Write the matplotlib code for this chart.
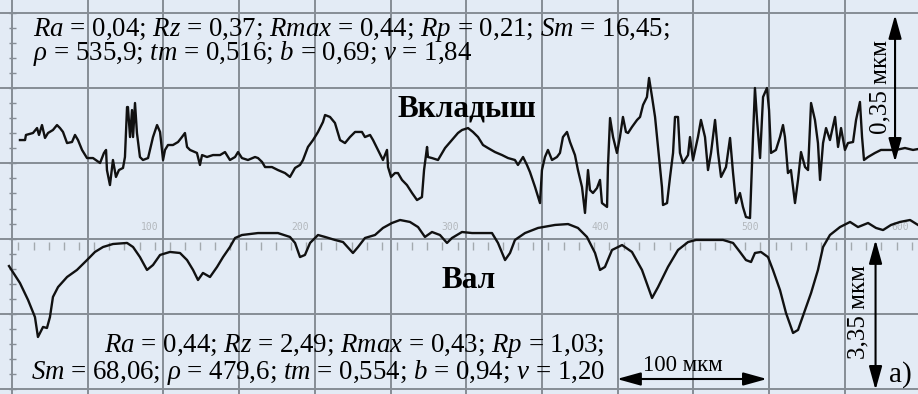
import matplotlib.pyplot as plt
import numpy as np

# profile coordinates (x in scale units, y in the same units from the bottom)
top_x = [13.3, 16.7, 17.3, 22, 24.7, 26, 28, 30, 32, 35.3, 38, 40, 42, 44.7, 48, 50, 52, 54.7, 58, 62,
         66.7, 69.3, 70.7, 71.3, 73.3, 75.3, 77.3, 79.3, 82, 83.3, 84.7, 85.3, 86.7, 88, 88.7, 90, 91.3,
         93.3, 95.3, 98.7, 102, 104.7, 106.7, 108.7, 110, 112, 115.3, 118.7, 121.3, 123.3, 124.7, 126.7,
         131.3, 133.3, 134.7, 138, 142, 146.7, 150, 153.3, 156.7, 158.7, 161.3, 165.3, 170, 172, 174.7,
         176.7, 181.3, 185.3, 190, 193.3, 196.7, 200, 202, 205.3, 208.7, 212, 215.3, 216.7, 220, 223.3,
         226.7, 230, 233.3, 236.7, 241.3, 243.3, 246.7, 248.7, 252, 255.3, 258, 258.7, 260.7, 263.3,
         265.3, 268, 271.3, 274.7, 278, 281.3, 282.7, 284.7, 285.3, 288, 292, 296.7, 301.3, 305.3, 308,
         312, 315.3, 318.7, 322, 325.3, 330, 334.7, 338.7, 343.3, 345.3, 348.7, 351.3, 353.3, 356.7, 360,
         361.3, 363.3, 365.3, 368, 371.3, 373.3, 375.3, 378, 380, 383.3, 385.3, 388, 390, 392, 393.3,
         395.3, 398, 400, 401.3, 404.7, 405.3, 406.7, 408.7, 411.3, 413.3, 415.3, 417.3, 418.7, 421.3,
         424.7, 426.7, 428.7, 431.3, 432.7, 434.7, 436.7, 438.7, 441.3, 442, 444.7, 446.7, 448.7, 450,
         452, 453.3, 455.3, 458.7, 460, 462, 465.3, 467.3, 470, 472, 474, 476.7, 478.7, 480.7, 484,
         486.7, 488.7, 490.7, 493.3, 495.3, 497.3, 500, 502, 503.3, 504.7, 506.7, 508.7, 511.3, 512.7,
         514, 517.3, 520, 522, 523.3, 525.3, 527.3, 530, 532, 534, 536.7, 538.7, 540.7, 543.3, 545.3,
         546.7, 548.7, 550.7, 553.3, 556.7, 558.7, 560.7, 563.3, 565.3, 568.7, 570.7, 573.3, 574.7, 576,
         578.7, 583.3, 587.3, 592, 597.3, 603.3, 608.7, 612]
top_y = [169.3, 169.3, 172.7, 174, 177.3, 172.7, 179.3, 170.7, 174, 176, 179.3, 177.3, 174.7, 167.3, 168,
         172.7, 169.3, 162.7, 157.3, 157.3, 154, 160.7, 162.7, 149.3, 139.3, 156, 144.7, 149.3, 150.7,
         158, 191.3, 191.3, 171.3, 189.3, 171.3, 194, 174, 158, 156, 157.3, 171.3, 179.3, 174.7, 156,
         162.7, 166, 166, 168, 171.3, 174, 164.7, 162.7, 160.7, 152.7, 159.3, 158, 159.3, 159.3, 161.3,
         156, 158, 161.3, 157.3, 156, 158, 157.3, 154.7, 151.3, 151.3, 149.3, 147.3, 144.7, 150.7, 152.7,
         156, 164.7, 169.3, 174.7, 181.3, 186, 184.7, 180.7, 169.3, 167.3, 171.3, 174.7, 174.7, 171.3,
         172.7, 169.3, 162.7, 156, 162.7, 151.3, 144.7, 147.3, 147.3, 142.7, 139.3, 134, 129.3, 131.3,
         149.3, 164.7, 158, 157.3, 156, 164, 169.3, 174, 176, 177.3, 174.7, 171.3, 166, 164, 161.3, 159.3,
         157.3, 156, 152.7, 158, 152.7, 148, 138, 127.3, 149.3, 158, 162.7, 156, 158, 160.7, 171.3, 174.7,
         168, 159.3, 149.3, 138, 120.7, 149.3, 136, 134, 137.3, 142.7, 127.3, 124.7, 151.3, 184, 171.3,
         160.7, 171.3, 184.7, 174.7, 174, 178, 182.7, 184.7, 192.7, 198, 210.7, 198, 184.7, 164.7, 138,
         126, 127.3, 144.7, 160.7, 184.7, 184.7, 160.7, 154, 159.3, 171.3, 156, 171.3, 182.7, 171.3, 149.3,
         160.7, 182.7, 160.7, 144.7, 151.3, 170.7, 147.3, 127.3, 134, 124.7, 118, 117.3, 171.3, 204, 182.7,
         157.3, 198, 204, 189.3, 160.7, 162.7, 171.3, 179.3, 171.3, 147.3, 149.3, 127.3, 142.7, 161.3,
         151.3, 149.3, 194, 182.7, 167.3, 142.7, 167.3, 177.3, 169.3, 184.7, 164.7, 177.3, 162.7, 167.3,
         168, 182.7, 194.7, 171.3, 156, 158, 160.7, 162.7, 162.7, 162.7, 164, 162.7, 163.3]

bottom_x = [6, 13.3, 18.7, 23.3, 25.3, 28.7, 31.3, 33.3, 35.3, 38.7, 44.7, 51.3, 58, 63.3, 68.7, 75.3,
            84.7, 88.7, 93.3, 98, 102, 106.7, 113.3, 120, 124.7, 128.7, 132, 135.3, 140, 144.7, 148.7,
            153.3, 156.7, 161.3, 172, 185.3, 193.3, 196.7, 200, 203.3, 206.7, 212, 216.7, 223.3, 228.7,
            235.3, 238.7, 243.3, 250, 255.3, 261.3, 266.7, 273.3, 278.7, 283.3, 288, 293.3, 298, 301.3,
            308, 314.7, 321.3, 328, 332, 336.7, 340, 343.3, 350, 358.7, 370, 378.7, 385.3, 391.3, 396.7,
            400, 403.3, 408, 414.7, 421.3, 428, 434.7, 438.7, 445.3, 452, 458.7, 464, 473.3, 482, 488.7,
            493.3, 497.3, 500.7, 503.3, 507.3, 512, 515.3, 520, 524, 528.7, 532, 536.7, 540.7, 545.3,
            548.7, 553.3, 560, 566.7, 572, 578.7, 584, 588.7, 594, 600, 606.7, 612]
bottom_y = [85.3, 74, 62.7, 51.3, 38, 44.7, 44, 51.3, 64.7, 71.3, 78, 82.7, 89.3, 94.7, 98, 100, 100.7,
            98, 91.3, 82.7, 86, 92.7, 94.7, 94, 89.3, 82.7, 76, 80.7, 78, 84.7, 91.3, 98, 104, 106, 107.3,
            107.3, 104.7, 100.7, 91.3, 92.7, 100.7, 106, 104.7, 102.7, 101.3, 94, 98, 104, 106, 110.7, 114,
            116, 114.7, 111.3, 104.7, 108, 106, 100.7, 104, 108, 107.3, 107.3, 107.3, 100.7, 89.3, 94,
            102.7, 107.3, 110.7, 112.7, 113.3, 110.7, 104.7, 94, 82.7, 84.7, 96, 99.3, 94.7, 82.7, 64,
            71.3, 84.7, 96, 101.3, 102.7, 102.7, 102.7, 100.7, 94.7, 89.3, 88, 94, 94.7, 91.3, 82.7, 69.3,
            54, 40.7, 42.7, 56, 67.3, 82.7, 98, 106, 111.3, 114.7, 111.3, 114, 110.7, 109.3, 112.7, 114.7,
            116, 112.7]

scale_labels = [100, 200, 300, 400, 500, 600]

top_lines = ["$Ra$ = 0,04; $Rz$ = 0,37; $Rmax$ = 0,44; $Rp$ = 0,21; $Sm$ = 16,45;",
             "$ρ$ = 535,9; $tm$ = 0,516; $b$ = 0,69; $ν$ = 1,84"]
bottom_lines = ["$Ra$ = 0,44; $Rz$ = 2,49; $Rmax$ = 0,43; $Rp$ = 1,03;",
                "$Sm$ = 68,06; $ρ$ = 479,6; $tm$ = 0,554; $b$ = 0,94; $ν$ = 1,20"]

BG = '#e3ebf5'
GRID = '#868d95'

plt.rcParams['font.family'] = ['Liberation Serif', 'DejaVu Serif']
plt.rcParams['mathtext.fontset'] = 'custom'
plt.rcParams['mathtext.rm'] = 'Liberation Serif'
plt.rcParams['mathtext.it'] = 'Liberation Serif:italic'

fig = plt.figure(figsize=(9.18, 3.94), dpi=100, facecolor=BG)
ax = fig.add_axes([0, 0, 1, 1])
ax.set_xlim(0, 612)
ax.set_ylim(0, 262.67)
ax.axis('off')

# grid
for gx in 8 + 50.47 * np.arange(12):
    ax.axvline(gx, color=GRID, lw=1.4, zorder=1)
for gy in 3.3 + 50.15 * np.arange(6):
    ax.axhline(gy, color=GRID, lw=1.4, zorder=1)

# little ticks on the left edge and on the scale line
ax.hlines(3.3 + 10.03 * np.arange(26), 6, 10.7, color=GRID, lw=1, zorder=1)
ax.vlines(12.3 + 10.094 * np.arange(60), 96, 101.3, color='#a3a9ae', lw=1, zorder=1)
for v in scale_labels:
    ax.text(v, 111.5, str(v), ha='center', va='center', fontsize=7,
            family='DejaVu Sans Mono', color='#b3b8bd', zorder=2)

# profiles
ax.plot(top_x, top_y, color='#111111', lw=1.7, zorder=3)
ax.plot(bottom_x, bottom_y, color='#111111', lw=1.7, zorder=3)

# parameters (the baseline anchor is the last line)
ax.text(22, 222.7, '\n'.join(top_lines), fontsize=19.4, va='baseline', ha='left',
        linespacing=0.76, zorder=4)
ax.text(403.3, 10, '\n'.join(bottom_lines), fontsize=19.4, va='baseline', ha='right',
        multialignment='right', linespacing=0.92, zorder=4)

ax.text(311.3, 184.7, 'Вкладыш', fontsize=22.5, fontweight='bold', ha='center', va='baseline', zorder=4)
ax.text(312.7, 70.7, 'Вал', fontsize=22.5, fontweight='bold', ha='center', va='baseline', zorder=4)

# scale arrows
arw = dict(arrowstyle='<|-|>,head_length=0.9,head_width=0.25', color='black', lw=1.5,
           mutation_scale=16, shrinkA=0, shrinkB=0)
ax.annotate('', xy=(596.7, 252.7), xytext=(596.7, 154.7), arrowprops=arw, zorder=5)
ax.annotate('', xy=(583.7, 102.7), xytext=(583.7, 2.7), arrowprops=arw, zorder=5)
ax.annotate('', xy=(411.3, 10), xytext=(511.3, 10), arrowprops=arw, zorder=5)
ax.text(586.7, 204.7, '0,35 мкм', fontsize=18, rotation=90, ha='center', va='center', zorder=4)
ax.text(572, 54.7, '3,35 мкм', fontsize=18, rotation=90, ha='center', va='center', zorder=4)
ax.text(455.3, 15.3, '100 мкм', fontsize=16.5, ha='center', va='baseline', zorder=4)
ax.text(600, 8, 'a)', fontsize=21, ha='center', va='baseline', zorder=4)

plt.savefig('out.png', dpi=100, facecolor=BG)
